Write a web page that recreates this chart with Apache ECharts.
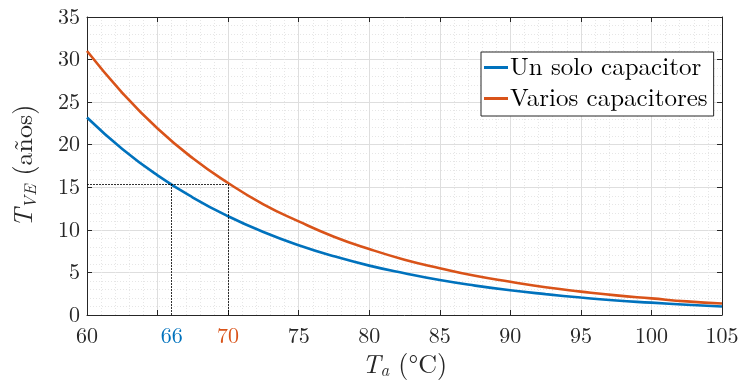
<!DOCTYPE html>
<html>
<head>
<meta charset="utf-8">
<script src="https://cdn.jsdelivr.net/npm/echarts@6/dist/echarts.min.js"></script>
<style>
  html, body { margin: 0; padding: 0; background: #fff; }
  #chart { width: 739px; height: 382px; }
</style>
</head>
<body>
<div id="chart"></div>
<script>
const temps = [60, 62.5, 65, 67.5, 70, 72.5, 75, 77.5, 80, 82.5, 85, 87.5, 90, 92.5, 95, 97.5, 100, 102.5, 105]
// lifetime in years
const unSolo = [23.2, 19.5, 16.4, 13.8, 11.6, 9.75, 8.2, 6.9, 5.8, 4.9, 4.1, 3.45, 2.9, 2.45, 2.05, 1.7, 1.45, 1.2, 1.0]
const varios = [31.0, 26.1, 21.9, 18.4, 15.5, 13.0, 11.0, 9.2, 7.75, 6.5, 5.5, 4.6, 3.9, 3.25, 2.75, 2.3, 1.95, 1.6, 1.35]

const xTickLabels = [60, 66, 70, 75, 80, 85, 90, 95, 100, 105]
const refLife = 15.4
const refTempUn = 66
const refTempVarios = 70

const BLUE = '#0072BD'
const ORANGE = '#D95319'
const AXIS = '#262626'
const FONT = '"Latin Modern Roman", "Liberation Serif", serif'

const chart = echarts.init(document.getElementById('chart'), null, { renderer: 'canvas' })

const gridLine = { show: true, lineStyle: { color: '#dedede', width: 1 } }
const minorLine = { show: true, lineStyle: { color: '#e6e6e6', width: 1, type: [1, 2] } }
const tick = { show: true, inside: true, length: 5, lineStyle: { color: AXIS } }
const line = { show: true, onZero: false, lineStyle: { color: AXIS, width: 1 } }

const titleRich = {
  i: { fontStyle: 'italic', fontFamily: FONT, fontSize: 26, color: AXIS },
  s: { fontStyle: 'italic', fontFamily: FONT, fontSize: 17, color: AXIS, verticalAlign: 'bottom', padding: [12, 0, 0, 0] },
  g: { fontFamily: FONT, fontSize: 26, color: AXIS, width: 9 },
}

const pairs = (ys) => temps.map((t, i) => [t, ys[i]])

chart.setOption({
  animation: false,
  backgroundColor: '#fff',
  textStyle: { fontFamily: FONT },
  grid: { left: 87, right: 17, top: 17, bottom: 67, containLabel: false, outerBoundsMode: 'none' },
  legend: {
    orient: 'vertical',
    left: 481,
    top: 52,
    data: ['Un solo capacitor', 'Varios capacitores'],
    icon: 'rect',
    itemWidth: 24,
    itemHeight: 3,
    itemGap: 6,
    padding: [3, 6, 5, 3],
    backgroundColor: '#fff',
    borderColor: AXIS,
    borderWidth: 1,
    textStyle: { fontFamily: FONT, fontSize: 25, color: '#000', padding: [0, 0, 0, -3] },
  },
  xAxis: [
    {
      type: 'value',
      min: 60,
      max: 105,
      interval: 5,
      axisLine: line,
      axisTick: tick,
      splitLine: gridLine,
      minorTick: { show: false, splitNumber: 5 },
      minorSplitLine: minorLine,
      axisLabel: {
        customValues: xTickLabels,
        margin: 10,
        fontFamily: FONT,
        fontSize: 22,
        color: AXIS,
        formatter: (v) => {
          if (v === refTempUn) return '{b|' + v + '}'
          if (v === refTempVarios) return '{o|' + v + '}'
          return String(v)
        },
        rich: {
          b: { color: BLUE, fontFamily: FONT, fontSize: 22 },
          o: { color: ORANGE, fontFamily: FONT, fontSize: 22 },
        },
      },
      name: '{i|T}{s|a}{g| }(°C)',
      nameLocation: 'middle',
      nameGap: 34,
      nameTextStyle: { fontFamily: FONT, fontSize: 26, color: AXIS, rich: titleRich },
    },
    {
      type: 'value',
      position: 'top',
      min: 60,
      max: 105,
      interval: 5,
      axisLine: line,
      axisTick: tick,
      axisLabel: { show: false },
      splitLine: { show: false },
    },
  ],
  yAxis: [
    {
      type: 'value',
      min: 0,
      max: 35,
      interval: 5,
      axisLine: line,
      axisTick: tick,
      splitLine: gridLine,
      minorTick: { show: false, splitNumber: 5 },
      minorSplitLine: minorLine,
      axisLabel: { fontFamily: FONT, fontSize: 22, color: AXIS, margin: 7 },
      name: '{i|T}{s|VE}{g| }(años)',
      nameLocation: 'middle',
      nameRotate: 90,
      nameGap: 48,
      nameTextStyle: { fontFamily: FONT, fontSize: 26, color: AXIS, rich: titleRich },
    },
    {
      type: 'value',
      position: 'right',
      min: 0,
      max: 35,
      interval: 5,
      axisLine: line,
      axisTick: tick,
      axisLabel: { show: false },
      splitLine: { show: false },
    },
  ],
  series: [
    {
      name: 'Un solo capacitor',
      type: 'line',
      data: pairs(unSolo),
      smooth: true,
      showSymbol: false,
      lineStyle: { color: BLUE, width: 2.6 },
      itemStyle: { color: BLUE },
      z: 3,
      markLine: {
        silent: true,
        symbol: ['none', 'none'],
        label: { show: false },
        lineStyle: { color: '#000', width: 0.8, type: [2, 1] },
        data: [
          [{ coord: [60, refLife] }, { coord: [refTempVarios, refLife] }],
          [{ coord: [refTempUn, 0] }, { coord: [refTempUn, refLife] }],
          [{ coord: [refTempVarios, 0] }, { coord: [refTempVarios, refLife] }],
        ],
      },
    },
    {
      name: 'Varios capacitores',
      type: 'line',
      data: pairs(varios),
      smooth: true,
      showSymbol: false,
      lineStyle: { color: ORANGE, width: 2.6 },
      itemStyle: { color: ORANGE },
      z: 3,
    },
  ],
})
</script>
</body>
</html>
